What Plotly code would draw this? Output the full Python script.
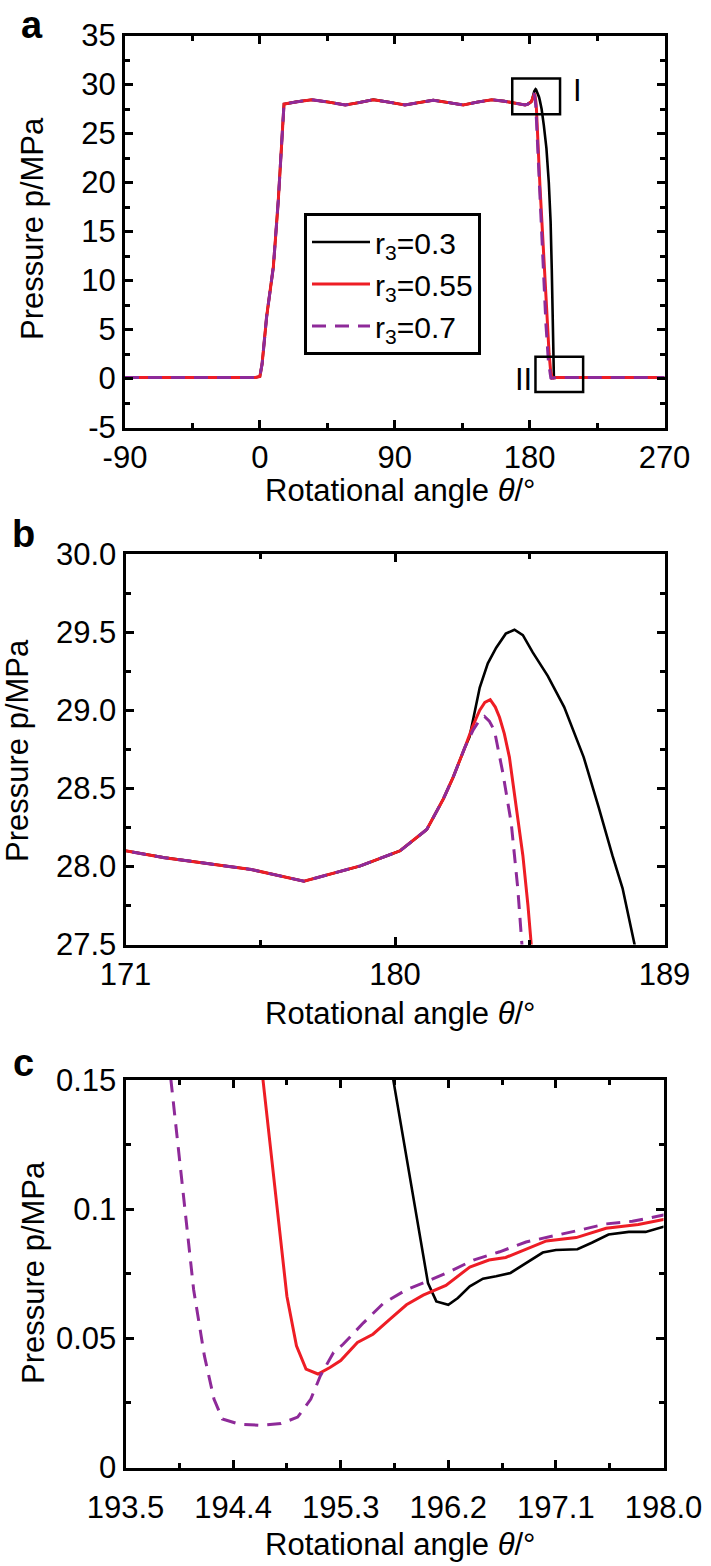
import plotly.graph_objects as go

# ---------------- data ----------------
# shared part of the three pressure curves (identical up to ~182.3 deg)
theta_common = [-90, -45, -3, 0, 1.5, 4.5, 9, 12.3, 14.5, 16.1,
                25, 34.6, 46, 57, 66, 75.7, 86, 96.8, 106, 115.7,
                126, 135.7, 145, 154.7, 163, 171, 172.3, 173.5, 175.2,
                176.96, 178.84, 180.17, 181.06, 181.61, 181.94, 182.33]
p_common = [0.1, 0.1, 0.1, 0.2, 1.5, 6.3, 11.4, 18.2, 24.0, 28.0,
            28.25, 28.45, 28.2, 27.91, 28.15, 28.45, 28.2, 27.91, 28.15, 28.4,
            28.15, 27.91, 28.2, 28.45, 28.3, 28.10, 28.056, 28.025, 27.98,
            27.905, 28.003, 28.10, 28.236, 28.43, 28.57, 28.76]

# r3 = 0.3 (black)
theta_r03 = [182.49, 182.83, 183.1, 183.38, 183.7, 183.99, 184.27, 184.6, 185.1,
             185.65, 186.3, 186.8, 187.26, 187.6, 188.0, 189.5, 191.2, 192.8,
             194.0, 194.8, 195.3, 195.6, 195.74, 196.03, 196.10, 196.2, 196.28,
             196.38, 196.49, 196.6, 196.72, 196.85, 196.99, 197.1, 197.28, 197.4,
             197.54, 197.71, 197.85, 198.0, 205, 230, 270]
p_r03 = [28.83, 29.145, 29.30, 29.40, 29.49, 29.515, 29.48, 29.37, 29.22,
         29.02, 28.70, 28.38, 28.07, 27.86, 27.5, 25.8, 23.5, 20.0,
         16.0, 11.0, 6.0, 2.0, 0.15, 0.0714, 0.0643, 0.063, 0.0656,
         0.0701, 0.0731, 0.074, 0.0753, 0.0791, 0.0832, 0.0842, 0.0845, 0.087,
         0.0902, 0.0912, 0.0912, 0.0932, 0.098, 0.1, 0.1]

# r3 = 0.55 (red)
theta_r055 = [182.6, 182.83, 183.0, 183.18, 183.35, 183.49, 183.65, 183.82, 184.05,
              184.27, 184.44, 184.55, 186.9, 189.2, 191.4, 193.0, 194.0, 194.65,
              194.85, 194.93, 195.01, 195.11, 195.21, 195.30, 195.44, 195.57,
              195.71, 195.85, 195.99, 196.18, 196.38, 196.54, 196.68, 196.85,
              197.02, 197.27, 197.52, 197.79, 198.0, 205, 230, 270]
p_r055 = [28.90, 29.0, 29.05, 29.067, 29.02, 28.955, 28.85, 28.70, 28.38,
          28.07, 27.75, 27.5, 19.6, 12.8, 6.0, 2.5, 0.8, 0.15,
          0.0663, 0.0471, 0.0381, 0.0362, 0.0387, 0.0414, 0.0484, 0.0516,
          0.0573, 0.063, 0.0667, 0.0705, 0.0776, 0.0803, 0.0813, 0.0845,
          0.0877, 0.0890, 0.0926, 0.0941, 0.096, 0.1, 0.1, 0.1]

# r3 = 0.7 (purple, dashed)
theta_r07 = [182.6, 182.8, 182.99, 183.15, 183.32, 183.6, 183.88, 184.1, 184.21,
             186.5, 188.8, 190.9, 192.5, 193.4, 193.88, 193.98, 194.07, 194.16,
             194.24, 194.31, 194.45, 194.63, 194.8, 194.94, 195.05, 195.13,
             195.24, 195.32, 195.49, 195.66, 195.85, 196.02, 196.21, 196.41,
             196.63, 196.85, 197.07, 197.29, 197.52, 197.74, 198.0, 205, 230, 270]
p_r07 = [28.87, 28.93, 28.96, 28.93, 28.87, 28.60, 28.28, 27.86, 27.5,
         19.8, 12.5, 5.5, 1.8, 0.5, 0.15, 0.1073, 0.0688, 0.0432,
         0.0265, 0.0188, 0.0168, 0.0163, 0.0170, 0.0195, 0.0265, 0.0355,
         0.0445, 0.0477, 0.056, 0.0637, 0.0688, 0.072, 0.0758, 0.0803,
         0.0835, 0.0873, 0.0895, 0.0918, 0.0943, 0.0953, 0.0977, 0.1, 0.1, 0.1]

series_names = ["r<sub>3</sub>=0.3", "r<sub>3</sub>=0.55", "r<sub>3</sub>=0.7"]

# tick labels
a_xticks = [-90, 0, 90, 180, 270]
a_xticktext = ["-90", "0", "90", "180", "270"]
a_yticks = [-5, 0, 5, 10, 15, 20, 25, 30, 35]
a_yticktext = ["-5", "0", "5", "10", "15", "20", "25", "30", "35"]
b_xticks = [171, 180, 189]
b_yticks = [27.5, 28.0, 28.5, 29.0, 29.5, 30.0]
c_xticks = [193.5, 194.4, 195.3, 196.2, 197.1, 198.0]
c_xticktext = ["193.5", "194.4", "195.3", "196.2", "197.1", "198.0"]
c_yticks = [0, 0.05, 0.1, 0.15]
c_yticktext = ["0", "0.05", "0.1", "0.15"]

# ---------------- figure ----------------
W, H = 711, 1566
FONT = "Liberation Sans, Arial, Helvetica, sans-serif"
FS = 31


def px_x(v):
    return v / W


def px_y(v):
    return 1 - v / H


full = {
    "black": (theta_common + theta_r03, p_common + p_r03),
    "red": (theta_common + theta_r055, p_common + p_r055),
    "purple": (theta_common + theta_r07, p_common + p_r07),
}
styles = [
    ("black", dict(color="#000000", width=2.6)),
    ("red", dict(color="#EE1D25", width=3)),
    ("purple", dict(color="#8E2A99", width=3, dash="14px,9px")),
]

fig = go.Figure()
panels = [("x", "y"), ("x2", "y2"), ("x3", "y3")]
for pi, (xa, ya) in enumerate(panels):
    for si, (key, st) in enumerate(styles):
        xs, ys = full[key]
        fig.add_trace(go.Scatter(
            x=xs, y=ys, mode="lines", line=st, xaxis=xa, yaxis=ya,
            name=series_names[si], showlegend=(pi == 0),
        ))

minor_style = dict(ticks="inside", ticklen=5, tickwidth=2.5, tickcolor="black", showgrid=False)
axis_common = dict(
    showline=True, linewidth=3, linecolor="black", mirror="ticks",
    ticks="inside", ticklen=8, tickwidth=2.5, tickcolor="black",
    showgrid=False, zeroline=False, automargin=False,
    tickfont=dict(family=FONT, size=FS, color="black"),
)

fig.update_layout(
    template="none",
    width=W, height=H,
    margin=dict(l=0, r=0, t=0, b=0, pad=0),
    paper_bgcolor="white", plot_bgcolor="white",
    font=dict(family=FONT, size=FS, color="black"),
    xaxis=dict(axis_common, domain=[px_x(125), px_x(664.5)], range=[-90, 270],
               tickmode="array", tickvals=a_xticks, ticktext=a_xticktext, anchor="y",
               minor=dict(minor_style, dtick=45, tick0=-90)),
    yaxis=dict(axis_common, domain=[px_y(427.5), px_y(35.5)], range=[-5, 35],
               tickmode="array", tickvals=a_yticks, ticktext=a_yticktext, anchor="x",
               minor=dict(minor_style, dtick=2.5, tick0=0)),
    xaxis2=dict(axis_common, domain=[px_x(125.5), px_x(664.5)], range=[171, 189],
                tickmode="array", tickvals=b_xticks, anchor="y2",
                minor=dict(minor_style, dtick=4.5, tick0=171)),
    yaxis2=dict(axis_common, domain=[px_y(944.5), px_y(554)], range=[27.5, 30.0],
                tickmode="array", tickvals=b_yticks, tickformat=".1f", anchor="x2",
                minor=dict(minor_style, dtick=0.25, tick0=27.5)),
    xaxis3=dict(axis_common, domain=[px_x(125.5), px_x(663.5)], range=[193.5, 198.0],
                tickmode="array", tickvals=c_xticks, ticktext=c_xticktext, anchor="y3",
                ticklabelstandoff=10,
                minor=dict(minor_style, dtick=0.45, tick0=193.5)),
    yaxis3=dict(axis_common, domain=[px_y(1467.5), px_y(1080)], range=[0, 0.15],
                tickmode="array", tickvals=c_yticks, ticktext=c_yticktext, anchor="x3",
                minor=dict(minor_style, dtick=0.025, tick0=0)),
    legend=dict(
        x=px_x(304), y=px_y(213), xanchor="left", yanchor="top",
        bordercolor="black", borderwidth=3, bgcolor="white",
        font=dict(family=FONT, size=30, color="black"),
        itemwidth=58, tracegroupgap=0,
    ),
    showlegend=True,
)

# zoom-region boxes on panel a
fig.add_shape(type="rect", xref="x", yref="y", x0=168.4, x1=200.3, y0=26.97, y1=30.6,
              line=dict(color="black", width=2.5))
fig.add_shape(type="rect", xref="x", yref="y", x0=183.9, x1=215.7, y0=-1.38, y1=2.22,
              line=dict(color="black", width=2.5))

annots = [
    # box labels
    dict(text="I", x=px_x(577), y=px_y(90), size=FS),
    dict(text="II", x=px_x(523), y=px_y(380), size=FS),
    # panel letters
    dict(text="<b>a</b>", x=px_x(32), y=px_y(25), size=38),
    dict(text="<b>b</b>", x=px_x(24), y=px_y(534), size=38),
    dict(text="<b>c</b>", x=px_x(23), y=px_y(1063), size=38),
    # x titles
    dict(text="Rotational angle <i>θ</i>/°", x=px_x(400), y=px_y(490), size=FS),
    dict(text="Rotational angle <i>θ</i>/°", x=px_x(400), y=px_y(1013), size=FS),
    dict(text="Rotational angle <i>θ</i>/°", x=px_x(400), y=px_y(1544), size=FS),
]
for a in annots:
    fig.add_annotation(text=a["text"], x=a["x"], y=a["y"], xref="paper", yref="paper",
                       showarrow=False, xanchor="center", yanchor="middle",
                       font=dict(family=FONT, size=a["size"], color="black"))

for (xc, yc) in [(33, 229), (17, 751), (33, 1273)]:
    fig.add_annotation(text="Pressure p/MPa", x=px_x(xc), y=px_y(yc), xref="paper", yref="paper",
                       showarrow=False, textangle=-90, xanchor="center", yanchor="middle",
                       font=dict(family=FONT, size=FS, color="black"))

fig.write_html(
    "out.html",
    config={"displayModeBar": False},
    post_script="document.body.style.margin='0px';document.body.style.overflow='hidden';",
)
